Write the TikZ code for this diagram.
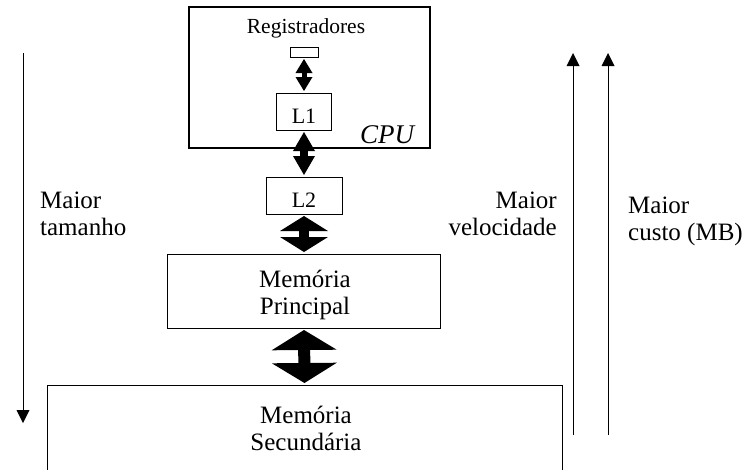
\documentclass[tikz,border=0pt]{standalone}
\usepackage{fontspec}
\setmainfont{Liberation Serif}
\usetikzlibrary{arrows.meta}
\tikzset{
box/.style={draw, line width=1pt, inner sep=0pt},
lbl/.style={inner sep=0pt, font=\fontsize{25}{27}\selectfont},
sml/.style={inner sep=0pt, font=\fontsize{22}{24}\selectfont}
}
\begin{document}
\begin{tikzpicture}[x=1pt,y=-1pt]
\clip (0,0) rectangle (753,469);
% caixas
\node[box, line width=1.8pt, minimum width=241pt, minimum height=141pt] (cpu) at (309.5,77.5) {};
\node[box, minimum width=28pt, minimum height=10pt] (reg) at (304,52) {};
\node[box, sml, minimum width=55pt, minimum height=37pt, text height=23pt, text depth=0pt] (lone) at (304,111.5) {L1};
\node[box, sml, minimum width=76pt, minimum height=37pt, text height=23pt, text depth=0pt] (ltwo) at (304,195.5) {L2};
\node[box, minimum width=273pt, minimum height=74pt] (mp) at (304,291) {};
\node[box, minimum width=515pt, minimum height=120pt] (ms) at (304.5,445) {};
\node[sml, font=\fontsize{21.5}{24}\selectfont, anchor=base] (regtxt) at (306,33) {Registradores};
\node[lbl, font=\fontsize{27}{29}\selectfont\itshape, anchor=base west] (cputxt) at (360,143) {CPU};
\node[lbl, align=center] (mptxt) at (305,295) {Memória\\Principal};
\node[lbl, align=center] (mstxt) at (306,428) {Memória\\Secundária};
% setas entre niveis
\foreach \a/\b/\w/\l/\s in {reg/lone/17/14/5, lone/ltwo/22/19/8, ltwo/mp/48/15/10, mp/ms/65/20/12}
\draw[line width=\s pt, shorten <=1.5pt, shorten >=1.5pt,
{Triangle[width=\w pt,length=\l pt,line width=0pt]}-{Triangle[width=\w pt,length=\l pt,line width=0pt]}]
(\a.south) -- (\b.north);
% setas laterais
\foreach \x/\y/\z in {23/53/423, 573/435/53, 608/435/53}
\draw[line width=1pt, -{Triangle[width=13pt,length=13pt,line width=0pt]}] (\x,\y) -- (\x,\z);
\node[lbl, align=left, anchor=base west] (tam) at (40,235) {Maior\\tamanho};
\node[lbl, align=right, anchor=base east] (vel) at (557,235) {Maior\\velocidade};
\node[lbl, align=left, anchor=base west] (cus) at (628,240) {Maior\\custo (MB)};
\end{tikzpicture}
\end{document}
